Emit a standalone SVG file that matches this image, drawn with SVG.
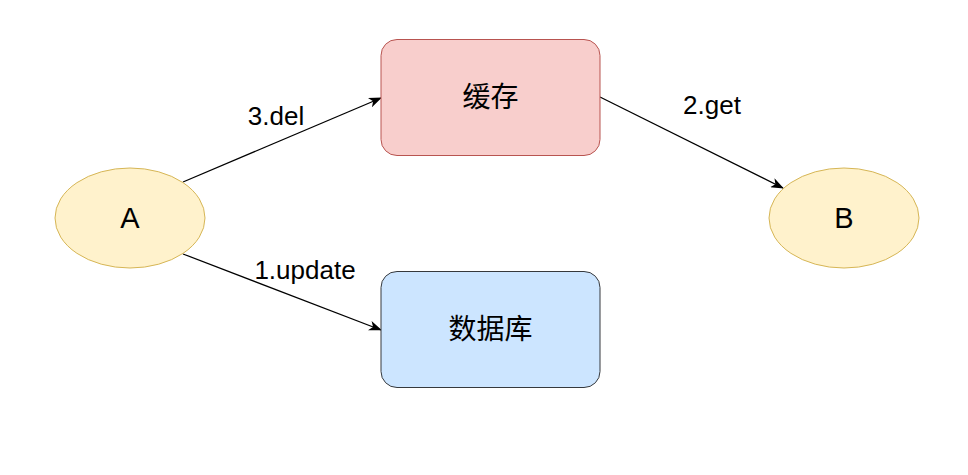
<svg xmlns="http://www.w3.org/2000/svg" width="968" height="475" viewBox="0 0 968 475">
<style>
.lbl{font-family:"Liberation Sans",Arial,sans-serif;font-size:26px;fill:#000;text-anchor:middle}
.node{font-family:"Liberation Sans","Noto Sans CJK SC",sans-serif;font-size:28px;fill:#000;text-anchor:middle}
.ltr{font-size:29px}
.ell{fill:#fff2cc;stroke:#d6b656;stroke-width:1}
.edge{fill:none;stroke:#000;stroke-width:1.3}
</style>
<defs>
<marker id="arr" viewBox="0 0 13 10" refX="12" refY="5" markerWidth="13" markerHeight="10" markerUnits="userSpaceOnUse" orient="auto">
<path d="M0,0 L13,5 L0,10 L3.5,5 Z" fill="#000"/>
</marker>
</defs>
<rect width="968" height="475" fill="#fff"/>
<g id="connectors">
<path class="edge" d="M183,182 L381,98" marker-end="url(#arr)"/>
<path class="edge" d="M183,254 L381,330" marker-end="url(#arr)"/>
<path class="edge" d="M600,97 L783,188" marker-end="url(#arr)"/>
<text class="lbl" x="276" y="125">3.del</text>
<text class="lbl" x="305" y="279">1.update</text>
<text class="lbl" x="712" y="114">2.get</text>
</g>
<g id="cache">
<rect x="381" y="39.5" width="219" height="116" rx="16" ry="16" fill="#f8cecc" stroke="#b85450"/>
<text class="node" x="490.5" y="107">缓存</text>
</g>
<g id="db">
<rect x="381" y="271.5" width="219" height="116" rx="16" ry="16" fill="#cce5ff" stroke="#36393d"/>
<text class="node" x="490.5" y="339">数据库</text>
</g>
<g id="A">
<ellipse class="ell" cx="130" cy="218" rx="75" ry="50"/>
<text class="node ltr" x="130" y="228">A</text>
</g>
<g id="B">
<ellipse class="ell" cx="844" cy="218" rx="75" ry="50"/>
<text class="node ltr" x="844" y="228">B</text>
</g>
</svg>
